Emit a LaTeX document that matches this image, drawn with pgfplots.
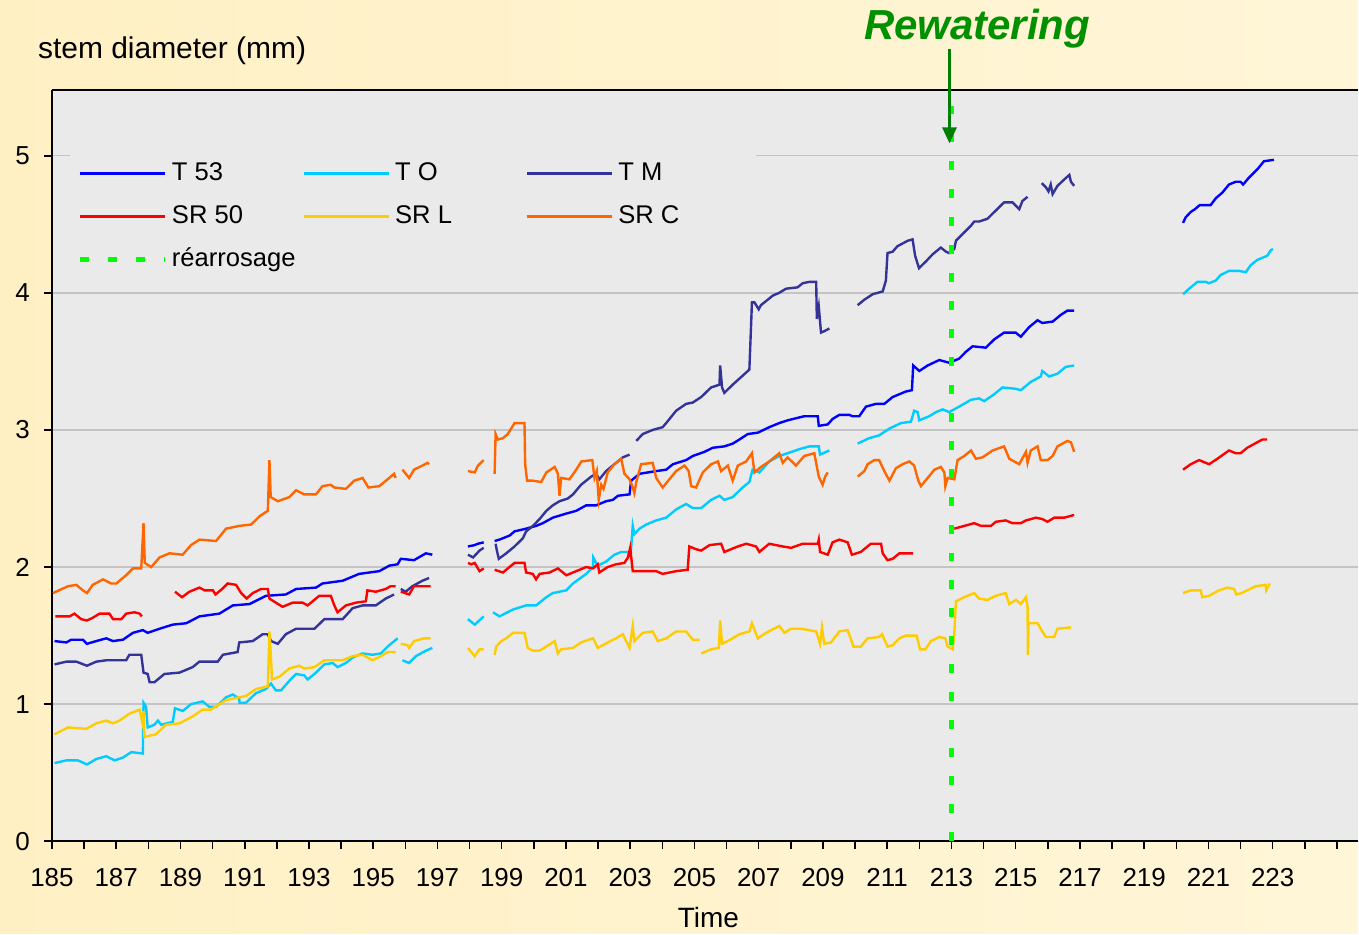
\documentclass[border=0pt]{standalone}
\usepackage{pgfplots}
\pgfplotsset{compat=1.18}
\usepackage{fontspec}
\setmainfont{Liberation Sans}
\usetikzlibrary{arrows.meta}
\definecolor{bgleft}{HTML}{FFF0C4}
\definecolor{bgright}{HTML}{FFF6D8}
\definecolor{plotgray}{HTML}{EAEAEA}
\definecolor{gridgray}{HTML}{C4C4C4}
\definecolor{cT53}{HTML}{0000FF}
\definecolor{cTO}{HTML}{00CCFF}
\definecolor{cTM}{HTML}{333399}
\definecolor{cSR50}{HTML}{FF0000}
\definecolor{cSRL}{HTML}{FFCC00}
\definecolor{cSRC}{HTML}{FF6600}
\definecolor{cwater}{HTML}{00FF00}
\definecolor{rewgreen}{HTML}{009000}
\definecolor{arrgreen}{HTML}{007F00}
\begin{document}
\begin{tikzpicture}
\shade[left color=bgleft, right color=bgright] (-26pt,-46pt) rectangle (653.5pt,421pt);
\begin{axis}[
    scale only axis, width=653.5pt, height=376pt,
    at={(0,0)}, anchor=south west,
    xmin=185, xmax=225.65, ymin=0, ymax=5.48,
    axis background/.style={fill=plotgray},
    axis x line*=bottom, axis y line*=left,
    axis line style={-, black, line width=1.2pt},
    xtick={185,187,...,223}, minor xtick={186,188,...,224,225},
    ytick={0,1,2,3,4,5},
    tick align=outside, major tick length=4pt, minor tick length=4pt,
    every tick/.style={black, line width=0.8pt},
    ymajorgrids, grid style={gridgray, line width=0.7pt},
    /pgf/number format/assume math mode=true,
    /pgf/number format/1000 sep={},
    ticklabel style={font=\fontsize{13}{15}\selectfont},
    xticklabel style={yshift=-6pt},
    yticklabel style={xshift=-3.5pt},
    clip=false,
    unbounded coords=jump,
    every axis plot/.append style={line width=1.2pt},
    legend columns=3,
    legend style={at={(rel axis cs:0.0137,0.915)}, anchor=north west,
        fill=plotgray, draw=none, inner xsep=3.5pt, inner ysep=4pt,
        row sep=10pt, font=\fontsize{12.8}{15}\selectfont,
        nodes={inner sep=0pt, text height=9pt, text depth=2.5pt}},
    legend image code/.code={\draw[#1] (0pt,0pt) -- (42.5pt,0pt);},
    /tikz/every odd column/.append style={column sep=2.5pt},
]
\addplot[cT53] coordinates {
(185.08,1.46) (185.45,1.45) (185.60,1.47) (185.96,1.47) (186.09,1.44) (186.38,1.46) (186.69,1.48) (186.90,1.46) (187.21,1.47) (187.52,1.52) (187.83,1.54) (187.98,1.52) (188.35,1.55) (188.76,1.58) (189.18,1.59) (189.59,1.64) (190.21,1.66) (190.63,1.72) (191.15,1.73) (191.66,1.79) (192.28,1.80) (192.60,1.84) (193.22,1.85) (193.42,1.88) (194.05,1.90) (194.56,1.95) (195.19,1.97) (195.50,2.01) (195.76,2.02) (195.86,2.06) (196.27,2.05) (196.64,2.10) (196.84,2.09)
(197.4,nan)
(197.95,2.15) (198.16,2.16) (198.26,2.17) (198.44,2.18)
(198.6,nan)
(198.78,2.19) (198.93,2.20) (199.25,2.23) (199.40,2.26) (199.76,2.28) (200.07,2.30) (200.28,2.32) (200.59,2.36) (201.01,2.39) (201.32,2.41) (201.63,2.45) (201.94,2.45) (202.25,2.48) (202.46,2.49) (202.62,2.52) (202.98,2.53) (203.03,2.63) (203.29,2.68) (203.81,2.70) (204.12,2.71) (204.33,2.75) (204.74,2.78) (204.95,2.81) (205.31,2.84) (205.57,2.87) (205.93,2.88) (206.19,2.90) (206.40,2.93) (206.66,2.97) (206.97,2.98) (207.33,3.02) (207.64,3.05) (207.90,3.07) (208.42,3.10) (208.84,3.10) (208.87,3.03) (209.15,3.04) (209.30,3.08) (209.51,3.11) (209.82,3.11) (209.92,3.10) (210.13,3.10) (210.34,3.17) (210.65,3.19) (210.91,3.19) (211.17,3.24) (211.58,3.28) (211.77,3.29) (211.81,3.47) (212.00,3.43) (212.26,3.47) (212.62,3.51) (212.93,3.49) (213.24,3.52) (213.45,3.57) (213.66,3.61) (214.07,3.60) (214.33,3.66) (214.64,3.71) (215.00,3.71) (215.16,3.68) (215.42,3.75) (215.68,3.80) (215.83,3.78) (216.15,3.79) (216.41,3.84) (216.61,3.87) (216.82,3.87)
(218,nan)
(220.21,4.51) (220.29,4.55) (220.45,4.59) (220.58,4.61) (220.73,4.64) (221.07,4.64) (221.23,4.69) (221.43,4.73) (221.64,4.79) (221.85,4.81) (222.00,4.81) (222.08,4.79) (222.26,4.84) (222.52,4.90) (222.73,4.96) (223.04,4.97)
};
\addlegendentry{\makebox[65.5pt][l]{T 53}}
\addplot[cTO] coordinates {
(185.08,0.57) (185.45,0.59) (185.81,0.59) (186.09,0.56) (186.38,0.60) (186.69,0.62) (186.95,0.59) (187.21,0.61) (187.47,0.65) (187.83,0.64) (187.85,1.01) (187.93,0.98) (187.98,0.83) (188.19,0.85) (188.30,0.88) (188.40,0.85) (188.76,0.87) (188.83,0.97) (189.07,0.95) (189.33,1.00) (189.69,1.02) (189.90,0.98) (190.11,0.98) (190.42,1.05) (190.63,1.07) (190.83,1.04) (190.84,1.01) (191.04,1.01) (191.35,1.08) (191.66,1.11) (191.82,1.15) (191.97,1.10) (192.13,1.10) (192.39,1.17) (192.60,1.22) (192.85,1.21) (192.96,1.18) (193.22,1.23) (193.48,1.29) (193.74,1.30) (193.89,1.27) (194.15,1.30) (194.36,1.34) (194.67,1.37) (194.98,1.36) (195.24,1.37) (195.45,1.42) (195.76,1.48)
(195.84,nan)
(195.91,1.32) (196.12,1.30) (196.33,1.35) (196.64,1.39) (196.84,1.41)
(197.4,nan)
(197.95,1.62) (198.16,1.58) (198.44,1.64)
(198.6,nan)
(198.73,1.67) (198.93,1.64) (199.35,1.69) (199.76,1.72) (200.07,1.72) (200.39,1.78) (200.59,1.81) (201.01,1.83) (201.22,1.88) (201.63,1.95) (201.84,2.00) (201.85,2.07) (201.99,2.01) (202.25,2.04) (202.51,2.09) (202.72,2.11) (202.93,2.11) (203.00,2.08) (203.03,2.14) (203.08,2.30) (203.13,2.24) (203.29,2.28) (203.50,2.31) (203.81,2.34) (204.12,2.36) (204.43,2.42) (204.74,2.46) (204.95,2.43) (205.21,2.43) (205.52,2.49) (205.78,2.52) (205.93,2.49) (206.19,2.51) (206.50,2.58) (206.71,2.62) (206.81,2.71) (207.02,2.69) (207.33,2.77) (207.64,2.81) (207.90,2.83) (208.27,2.86) (208.58,2.88) (208.87,2.88) (208.91,2.82) (209.10,2.84) (209.20,2.85)
(209.6,nan)
(210.08,2.90) (210.44,2.94) (210.75,2.96) (211.07,3.01) (211.43,3.05) (211.74,3.06) (211.84,3.14) (211.95,3.13) (212.00,3.07) (212.31,3.10) (212.52,3.13) (212.73,3.15) (212.93,3.13) (213.24,3.17) (213.61,3.22) (213.86,3.23) (214.02,3.21) (214.33,3.26) (214.59,3.31) (215.00,3.30) (215.16,3.29) (215.47,3.35) (215.78,3.39) (215.83,3.43) (216.04,3.39) (216.30,3.41) (216.56,3.46) (216.82,3.47)
(218,nan)
(220.21,3.99) (220.40,4.03) (220.66,4.08) (220.92,4.08) (221.02,4.07) (221.23,4.09) (221.38,4.13) (221.64,4.16) (221.95,4.16) (222.16,4.15) (222.31,4.20) (222.52,4.24) (222.83,4.27) (222.94,4.31) (223.01,4.32)
};
\addlegendentry{\makebox[65.5pt][l]{T O}}
\addplot[cTM] coordinates {
(185.08,1.29) (185.45,1.31) (185.76,1.31) (186.09,1.28) (186.38,1.31) (186.69,1.32) (187.31,1.32) (187.41,1.36) (187.78,1.36) (187.85,1.23) (187.98,1.22) (188.04,1.16) (188.19,1.16) (188.50,1.22) (188.97,1.23) (189.38,1.27) (189.59,1.31) (190.16,1.31) (190.32,1.36) (190.78,1.38) (190.83,1.45) (191.25,1.46) (191.56,1.51) (191.72,1.51) (191.82,1.46) (192.03,1.44) (192.28,1.51) (192.60,1.55) (193.17,1.55) (193.48,1.62) (194.05,1.62) (194.36,1.70) (194.67,1.72) (195.08,1.72) (195.39,1.77) (195.65,1.80)
(195.75,nan)
(195.86,1.84) (196.01,1.82) (196.22,1.86) (196.53,1.90) (196.74,1.92)
(197.4,nan)
(197.95,2.09) (198.11,2.07) (198.31,2.12) (198.44,2.14)
(198.6,nan)
(198.81,2.17) (198.85,2.12) (198.91,2.06) (199.14,2.10) (199.40,2.15) (199.66,2.21) (199.76,2.26) (199.97,2.30) (200.18,2.35) (200.39,2.41) (200.59,2.45) (200.80,2.48) (201.06,2.50) (201.22,2.53) (201.47,2.60) (201.79,2.66) (201.94,2.68) (202.04,2.64) (202.25,2.70) (202.51,2.75) (202.77,2.80) (202.98,2.82)
(203.1,nan)
(203.19,2.92) (203.39,2.97) (203.70,3.00) (204.01,3.02) (204.12,3.05) (204.43,3.14) (204.74,3.19) (204.95,3.20) (205.21,3.24) (205.52,3.31) (205.78,3.33) (205.80,3.47) (205.86,3.31) (205.93,3.27) (206.19,3.33) (206.71,3.44) (206.79,3.93) (206.87,3.93) (207.00,3.88) (207.07,3.91) (207.23,3.94) (207.44,3.98) (207.64,4.00) (207.85,4.03) (208.21,4.04) (208.37,4.07) (208.58,4.08) (208.79,4.08) (208.81,3.81) (208.87,3.90) (208.94,3.71) (209.04,3.72) (209.20,3.74)
(209.6,nan)
(210.08,3.91) (210.29,3.95) (210.55,3.99) (210.86,4.01) (210.96,4.09) (211.01,4.29) (211.17,4.30) (211.32,4.34) (211.64,4.38) (211.79,4.39) (211.87,4.27) (211.99,4.18) (212.21,4.23) (212.41,4.28) (212.67,4.33) (212.83,4.30) (212.93,4.29) (213.09,4.32) (213.14,4.38) (213.35,4.43) (213.61,4.49) (213.71,4.52) (213.86,4.52) (214.12,4.54) (214.38,4.60) (214.64,4.66) (214.90,4.66) (215.11,4.61) (215.21,4.67) (215.37,4.70)
(215.6,nan)
(215.81,4.80) (215.94,4.77) (216.02,4.74) (216.09,4.79) (216.15,4.72) (216.30,4.78) (216.48,4.82) (216.67,4.86) (216.72,4.81) (216.82,4.78)
};
\addlegendentry{\makebox[65.5pt][l]{T M}}
\addplot[cSR50] coordinates {
(185.11,1.64) (185.55,1.64) (185.70,1.66) (185.91,1.62) (186.09,1.61) (186.27,1.63) (186.48,1.66) (186.79,1.66) (186.90,1.62) (187.16,1.62) (187.31,1.66) (187.57,1.67) (187.73,1.66) (187.80,1.64)
(188.3,nan)
(188.83,1.82) (189.05,1.78) (189.28,1.82) (189.59,1.85) (189.75,1.83) (190.01,1.83) (190.09,1.80) (190.30,1.84) (190.47,1.88) (190.73,1.87) (190.89,1.81) (191.06,1.77) (191.25,1.81) (191.51,1.84) (191.72,1.84) (191.77,1.77) (191.97,1.74) (192.18,1.71) (192.49,1.74) (192.80,1.74) (192.96,1.72) (193.32,1.79) (193.68,1.79) (193.79,1.72) (193.89,1.67) (194.15,1.72) (194.46,1.74) (194.77,1.75) (194.82,1.83) (195.08,1.82) (195.39,1.84) (195.54,1.86) (195.70,1.86)
(195.78,nan)
(195.86,1.82) (196.12,1.80) (196.27,1.86) (196.79,1.86)
(197.4,nan)
(197.95,2.03) (198.05,2.02) (198.16,2.03) (198.31,1.97) (198.44,1.99)
(198.6,nan)
(198.78,1.98) (199.04,1.96) (199.19,1.99) (199.40,2.03) (199.71,2.03) (199.76,1.96) (199.97,1.95) (200.07,1.91) (200.18,1.95) (200.49,1.96) (200.75,1.99) (201.01,1.94) (201.32,1.97) (201.63,2.00) (201.84,1.99) (201.99,2.02) (202.04,1.96) (202.30,2.00) (202.56,2.02) (202.82,2.03) (202.93,2.07) (203.00,2.14) (203.08,1.97) (203.39,1.97) (203.81,1.97) (204.01,1.95) (204.43,1.97) (204.79,1.98) (204.84,2.15) (205.05,2.13) (205.21,2.12) (205.47,2.16) (205.83,2.17) (205.93,2.11) (206.35,2.15) (206.61,2.17) (206.92,2.15) (207.02,2.11) (207.33,2.17) (207.75,2.15) (208.01,2.14) (208.37,2.17) (208.84,2.17) (208.87,2.20) (208.91,2.11) (209.15,2.09) (209.30,2.18) (209.51,2.20) (209.77,2.18) (209.90,2.09) (210.18,2.11) (210.49,2.17) (210.81,2.17) (210.86,2.10) (211.01,2.05) (211.17,2.06) (211.38,2.10) (211.81,2.10)
(212.4,nan)
(213.09,2.28) (213.40,2.30) (213.71,2.32) (213.92,2.30) (214.23,2.30) (214.38,2.33) (214.69,2.34) (214.90,2.32) (215.16,2.32) (215.32,2.34) (215.63,2.36) (215.83,2.35) (215.99,2.33) (216.20,2.36) (216.51,2.36) (216.82,2.38)
(218,nan)
(220.21,2.71) (220.45,2.75) (220.71,2.78) (221.02,2.75) (221.28,2.79) (221.64,2.85) (221.85,2.83) (222.00,2.83) (222.21,2.87) (222.52,2.91) (222.68,2.93) (222.83,2.93)
};
\addlegendentry{\makebox[65.5pt][l]{SR 50}}
\addplot[cSRL] coordinates {
(185.08,0.78) (185.50,0.83) (186.07,0.82) (186.38,0.86) (186.69,0.88) (186.90,0.86) (187.10,0.88) (187.41,0.93) (187.73,0.96) (187.81,0.87) (187.85,0.95) (187.88,0.76) (188.04,0.77) (188.24,0.78) (188.55,0.85) (188.97,0.86) (189.38,0.91) (189.69,0.96) (189.95,0.96) (190.42,1.03) (191.04,1.06) (191.35,1.11) (191.72,1.13) (191.77,1.53) (191.82,1.33) (191.85,1.18) (192.08,1.20) (192.39,1.26) (192.70,1.28) (192.85,1.26) (193.17,1.27) (193.48,1.32) (194.05,1.32) (194.36,1.35) (194.67,1.36) (194.98,1.32) (195.24,1.35) (195.45,1.38) (195.70,1.38)
(195.78,nan)
(195.86,1.44) (196.07,1.43) (196.12,1.41) (196.27,1.46) (196.58,1.48) (196.79,1.48)
(197.4,nan)
(197.95,1.41) (198.16,1.35) (198.31,1.40) (198.44,1.40)
(198.6,nan)
(198.78,1.36) (198.83,1.42) (198.99,1.46) (199.14,1.48) (199.35,1.52) (199.71,1.52) (199.81,1.41) (199.97,1.39) (200.18,1.39) (200.39,1.42) (200.65,1.46) (200.75,1.37) (200.85,1.40) (201.22,1.41) (201.47,1.45) (201.84,1.48) (201.89,1.46) (201.99,1.41) (202.30,1.45) (202.56,1.48) (202.77,1.51) (202.98,1.41) (203.08,1.57) (203.13,1.46) (203.39,1.52) (203.70,1.53) (203.86,1.46) (204.12,1.48) (204.43,1.53) (204.74,1.53) (204.95,1.47) (205.16,1.47)
(205.18,nan)
(205.21,1.37) (205.52,1.40) (205.76,1.41) (205.80,1.61) (205.86,1.44) (206.04,1.46) (206.40,1.51) (206.71,1.53) (206.79,1.59) (206.97,1.48) (207.23,1.52) (207.64,1.57) (207.80,1.52) (208.01,1.55) (208.32,1.55) (208.79,1.53) (208.91,1.44) (208.97,1.56) (209.04,1.44) (209.25,1.45) (209.51,1.53) (209.77,1.54) (209.95,1.42) (210.18,1.42) (210.39,1.48) (210.75,1.49) (210.84,1.51) (211.01,1.42) (211.17,1.43) (211.38,1.48) (211.58,1.50) (211.92,1.50) (212.02,1.40) (212.19,1.40) (212.36,1.46) (212.62,1.49) (212.81,1.48) (212.88,1.42) (213.04,1.40) (213.09,1.52) (213.14,1.75) (213.40,1.78) (213.71,1.81) (213.86,1.77) (214.12,1.76) (214.38,1.79) (214.69,1.81) (214.80,1.73) (215.01,1.76) (215.16,1.73) (215.32,1.78) (215.37,1.71) (215.38,1.36) (215.40,1.59) (215.68,1.59) (215.83,1.53) (215.94,1.49) (216.20,1.49) (216.30,1.55) (216.72,1.56)
(218,nan)
(220.21,1.81) (220.45,1.83) (220.76,1.83) (220.81,1.78) (221.02,1.79) (221.17,1.81) (221.33,1.83) (221.59,1.85) (221.80,1.84) (221.87,1.80) (222.03,1.81) (222.21,1.83) (222.47,1.86) (222.78,1.87) (222.80,1.83) (222.91,1.88)
};
\addlegendentry{\makebox[65.5pt][l]{SR L}}
\addplot[cSRC] coordinates {
(185.03,1.81) (185.50,1.86) (185.76,1.87) (185.96,1.83) (186.09,1.81) (186.27,1.87) (186.59,1.91) (186.84,1.88) (187.00,1.88) (187.31,1.94) (187.52,1.99) (187.78,1.99) (187.85,2.32) (187.89,2.03) (188.09,2.00) (188.35,2.07) (188.66,2.10) (189.07,2.09) (189.33,2.16) (189.59,2.20) (190.11,2.19) (190.42,2.28) (190.83,2.30) (191.20,2.31) (191.46,2.37) (191.72,2.41) (191.77,2.78) (191.81,2.51) (192.03,2.48) (192.39,2.51) (192.60,2.56) (192.85,2.53) (193.22,2.53) (193.42,2.59) (193.68,2.60) (193.79,2.58) (194.15,2.57) (194.41,2.63) (194.67,2.65) (194.85,2.58) (195.19,2.59) (195.45,2.64) (195.65,2.68) (195.70,2.65)
(195.80,nan)
(195.91,2.71) (196.12,2.65) (196.27,2.71) (196.53,2.74) (196.69,2.76) (196.74,2.75)
(197.4,nan)
(197.95,2.70) (198.16,2.69) (198.26,2.74) (198.44,2.78)
(198.6,nan)
(198.78,2.68) (198.81,2.97) (198.88,2.93) (199.04,2.94) (199.19,2.97) (199.40,3.05) (199.71,3.05) (199.73,2.75) (199.79,2.63) (199.97,2.63) (200.23,2.62) (200.39,2.69) (200.65,2.73) (200.75,2.68) (200.80,2.52) (200.85,2.65) (201.11,2.64) (201.32,2.71) (201.48,2.77) (201.82,2.78) (201.89,2.65) (201.96,2.70) (202.02,2.49) (202.10,2.60) (202.17,2.57) (202.30,2.69) (202.51,2.75) (202.72,2.79) (202.82,2.68) (202.98,2.64) (203.08,2.58) (203.13,2.54) (203.19,2.62) (203.34,2.75) (203.70,2.76) (203.81,2.65) (204.01,2.58) (204.22,2.64) (204.43,2.70) (204.69,2.74) (204.82,2.70) (204.90,2.59) (205.05,2.58) (205.26,2.69) (205.52,2.75) (205.73,2.77) (205.83,2.70) (206.04,2.74) (206.19,2.63) (206.35,2.74) (206.61,2.77) (206.79,2.83) (206.87,2.69) (207.07,2.73) (207.33,2.77) (207.64,2.83) (207.75,2.76) (207.90,2.80) (208.16,2.74) (208.42,2.81) (208.73,2.83) (208.87,2.66) (208.99,2.60) (209.07,2.66) (209.15,2.69)
(209.6,nan)
(210.08,2.66) (210.29,2.70) (210.39,2.75) (210.60,2.78) (210.75,2.78) (210.91,2.70) (211.07,2.63) (211.27,2.72) (211.48,2.75) (211.69,2.77) (211.84,2.74) (211.97,2.63) (212.05,2.59) (212.26,2.65) (212.47,2.71) (212.67,2.73) (212.78,2.69) (212.81,2.59) (212.88,2.65) (213.09,2.64) (213.19,2.78) (213.40,2.81) (213.61,2.85) (213.76,2.79) (213.97,2.80) (214.28,2.85) (214.64,2.88) (214.80,2.79) (215.11,2.75) (215.32,2.84) (215.37,2.76) (215.47,2.85) (215.68,2.88) (215.78,2.78) (215.99,2.78) (216.15,2.81) (216.30,2.88) (216.61,2.92) (216.72,2.91) (216.82,2.84)
};
\addlegendentry{\makebox[65.5pt][l]{SR C}}
\addplot[cwater, line width=2.4pt, dash pattern=on 4.5pt off 9.5pt] coordinates {(213,0) (213,5.36)};
\addlegendentry{\makebox[65.5pt][l]{réarrosage}}
\draw[black, line width=1.2pt] (rel axis cs:0,1) -- (rel axis cs:1,1);
\draw[arrgreen, line width=1.5pt, -{Triangle[width=7pt,length=8pt]}] (axis cs:212.94,5.78) -- (axis cs:212.94,5.09);
\node[font=\fontsize{21}{24}\selectfont\bfseries\itshape, text=rewgreen] at (axis cs:213.8,5.93) {Rewatering};
\end{axis}
\node[anchor=base west, font=\fontsize{15}{18}\selectfont] at (-10.5pt,391.5pt) {stem diameter (mm)};
\node[anchor=base, font=\fontsize{14}{17}\selectfont] at (328.5pt,-43pt) {Time};
\end{tikzpicture}
\end{document}
